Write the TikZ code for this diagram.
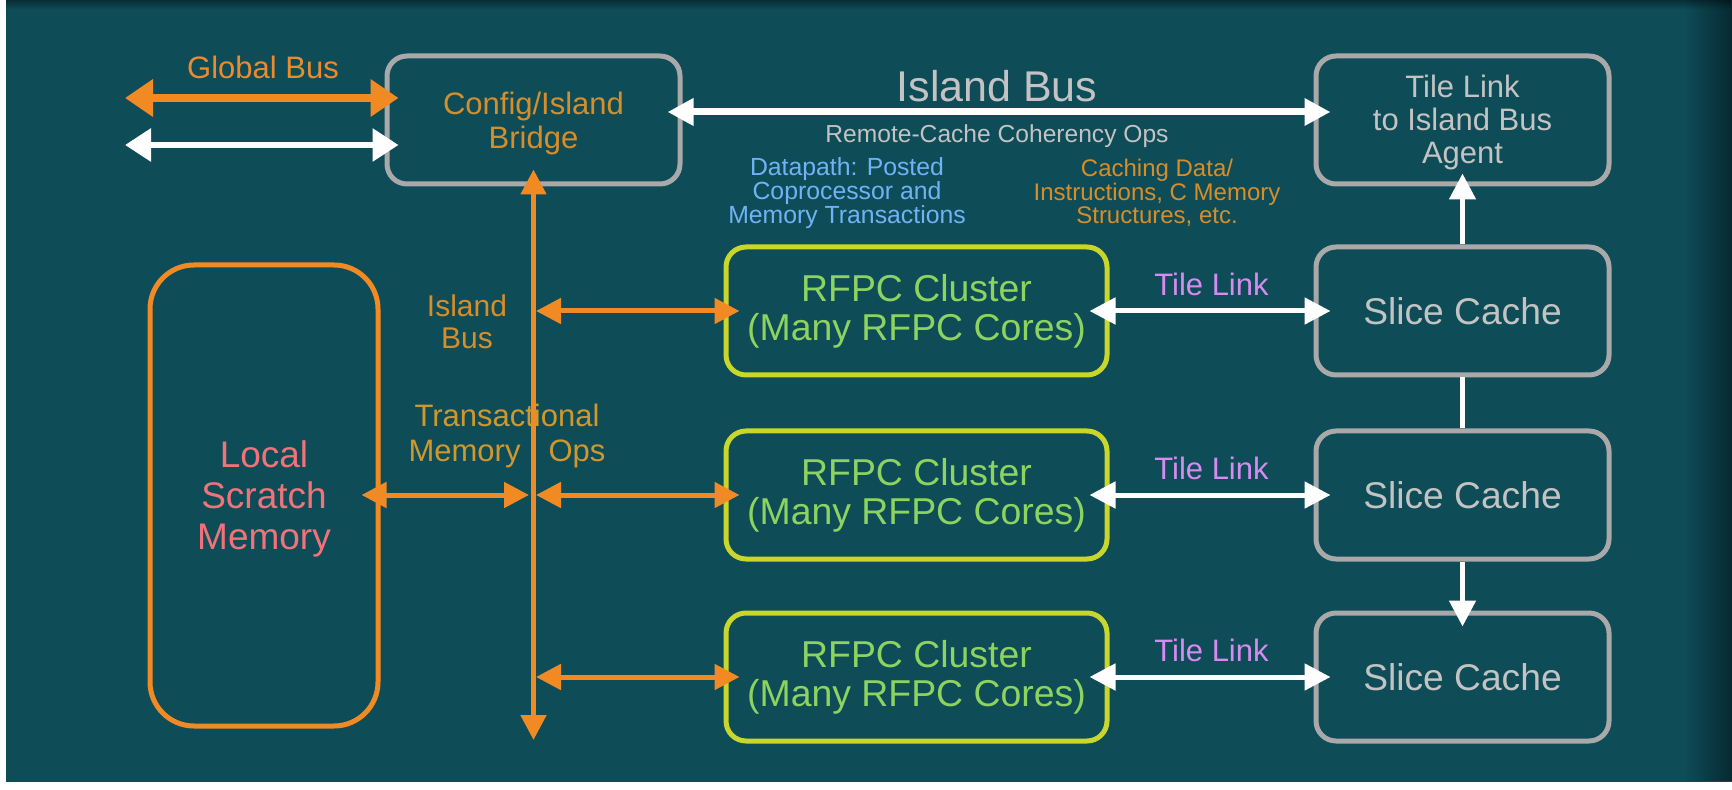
\documentclass[tikz,border=0pt]{standalone}
\usepackage{fontspec}
\setmainfont{Liberation Sans}
\usetikzlibrary{arrows.meta,calc,fadings}

\definecolor{bgin}{HTML}{0E4C58}
\definecolor{bgmid}{HTML}{0C4551}
\definecolor{bgout}{HTML}{07303A}
\definecolor{boxgray}{HTML}{A9A9A9}
\definecolor{txtgray}{HTML}{C3C3C3}
\definecolor{busorange}{HTML}{F28A24}
\definecolor{orgtext}{HTML}{D68E2A}
\definecolor{gbtext}{HTML}{EC8B2E}
\definecolor{goldtext}{HTML}{CF982E}
\definecolor{rfborder}{HTML}{C9D62B}
\definecolor{rftext}{HTML}{8DD35F}
\definecolor{coral}{HTML}{F2727A}
\definecolor{dpblue}{HTML}{71B2F5}
\definecolor{tlpurple}{HTML}{D48CF0}

\newcommand{\fsz}[2]{\fontsize{#1}{#2}\selectfont}

\pgfdeclareradialshading{vignette}{\pgfpoint{0bp}{0bp}}{%
  color(0bp)=(bgin); color(40bp)=(bgin); color(50bp)=(bgmid); color(72bp)=(bgout)}
\tikzfading[name=rightdark, left color=transparent!100, right color=transparent!0]
\tikzfading[name=topdark, bottom color=transparent!100, top color=transparent!0]

\begin{document}
\begin{tikzpicture}[x=0.5pt,y=-0.5pt,
  gbox/.style={draw=boxgray, line width=2.5pt, rounded corners=10pt,
    minimum width=146.5pt, minimum height=64pt, align=center, text=txtgray, inner sep=0pt},
  rbox/.style={draw=rfborder, line width=2.5pt, rounded corners=10pt,
    minimum width=190.5pt, minimum height=64pt, align=center, text=rftext, inner sep=0pt,
    font=\fsz{18.7}{19.5}},
  slicebox/.style={gbox, font=\fsz{18.6}{20}},
  lbl/.style={align=center, inner sep=0pt},
  tl/.style={lbl, text=tlpurple, font=\fsz{15.5}{17}},
  warr/.style={draw=white, line width=2.5pt, {Triangle[length=13pt,width=13pt]}-{Triangle[length=13pt,width=13pt]}},
  wup/.style={draw=white, line width=2.5pt, -{Triangle[length=13pt,width=13pt]}},
  oarr/.style={draw=busorange, line width=2.5pt, {Triangle[length=12.5pt,width=12.5pt]}-{Triangle[length=12.5pt,width=12.5pt]}},
]
% background
\fill[white] (0,0) rectangle (1732,790);
\shade[shading=vignette] (6,0) rectangle (1732,781);
\fill[black, opacity=0.45, path fading=rightdark] (1685,0) rectangle (1732,781);
\fill[black, opacity=0.4, path fading=topdark] (6,0) rectangle (1732,9);

% boxes (a leading strut line with negative skip lowers the text a little)
\node[gbox, text=orgtext, font=\fsz{15.5}{17}] (cfg) at (533.5,120) {\strut\\[-14pt]Config/Island\\Bridge};
\node[gbox, font=\fsz{15.5}{16.5}] (tile) at (1462.5,120) {\strut\\[-14.5pt]Tile Link\\to Island Bus\\Agent};
\node[slicebox] (sc1) at (1462.5,311) {Slice Cache};
\node[slicebox] (sc2) at (1462.5,495) {Slice Cache};
\node[slicebox] (sc3) at (1462.5,677) {Slice Cache};
\node[rbox] (rf1) at (916.5,311) {RFPC Cluster\\(Many RFPC Cores)};
\node[rbox] (rf2) at (916.5,495) {RFPC Cluster\\(Many RFPC Cores)};
\node[rbox] (rf3) at (916.5,677) {RFPC Cluster\\(Many RFPC Cores)};
\node[draw=busorange, line width=2.5pt, rounded corners=22pt, minimum width=114pt,
  minimum height=230.5pt, inner sep=0pt] (scr) at (264,495.5) {};
\node[lbl, text=coral, font=\fsz{18.5}{20.5}] (scrtext) at (264,498.5) {Local\\Scratch\\Memory};

% labels
\node[lbl, text=gbtext, font=\fsz{15.5}{17}] (glab) at (263,67) {Global Bus};
\node[lbl, text=txtgray, font=\fsz{21.5}{24}] (iblab) at (997,86) {Island Bus};
\node[lbl, text=txtgray, font=\fsz{12.3}{13}] (rcc) at (997,136) {Remote-Cache Coherency Ops};
\node[lbl, text=dpblue, font=\fsz{12.4}{11.9}] (dp) at (847,193) {Datapath: Posted\\Coprocessor and\\Memory Transactions};
\node[lbl, text=orgtext, font=\fsz{12}{11.9}] (cd) at (1157,193) {Caching Data/\\Instructions, C Memory\\Structures, etc.};
\node[lbl, text=orgtext, font=\fsz{15}{16}] (ibl) at (467,322) {Island\\Bus};
\node[lbl, text=goldtext, font=\fsz{15.5}{17.5}] (tmo) at (507,435.5) {Transactional\\Memory\hspace{14pt}Ops};
\node[tl] (tl1) at ($(rf1.east)!0.5!(sc1.west)+(0,-27)$) {Tile Link};
\node[tl] (tl2) at ($(rf2.east)!0.5!(sc2.west)+(0,-27)$) {Tile Link};
\node[tl] (tl3) at ($(rf3.east)!0.5!(sc3.west)+(0,-27)$) {Tile Link};

% global bus links
\coordinate (gbo) at (125,98);
\coordinate (gbw) at (125,145);
\draw[draw=busorange, line width=4pt, shorten >=-7pt,
  {Triangle[length=14pt,width=18pt]}-{Triangle[length=14pt,width=18pt]}] (gbo) -- (gbo -| cfg.west);
\draw[draw=white, line width=3pt, shorten >=-7pt,
  {Triangle[length=13pt,width=16pt]}-{Triangle[length=13pt,width=16pt]}] (gbw) -- (gbw -| cfg.west);

% island bus
\coordinate (ibrow) at (0,112);
\draw[warr, line width=3.5pt, shorten <=-7.5pt, shorten >=-8.5pt] (cfg.east |- ibrow) -- (tile.west |- ibrow);

% tile links
\draw[warr, shorten <=-10pt, shorten >=-8.5pt] (rf1.east) -- (sc1.west);
\draw[warr, shorten <=-10pt, shorten >=-8.5pt] (rf2.east) -- (sc2.west);
\draw[warr, shorten <=-10pt, shorten >=-8.5pt] (rf3.east) -- (sc3.west);

% slice cache chain
\draw[wup, shorten >=-6.5pt] (sc1.north) -- (tile.south);
\draw[draw=white, line width=2.5pt] (sc1.south) -- (sc2.north);
\draw[wup, shorten >=-8pt] (sc2.south) -- (sc3.north);

% orange island bus spine
\coordinate (busbot) at (533.5,740);
\draw[oarr, shorten >=-8.5pt] (busbot) -- (cfg.south);
\coordinate (bj1) at (536,311);
\coordinate (bj2) at (536,495);
\coordinate (bj3) at (536,677);
\coordinate (bjs) at (529,495);
\draw[oarr, shorten >=-8pt] (bj1) -- (rf1.west);
\draw[oarr, shorten >=-8pt] (bj2) -- (rf2.west);
\draw[oarr, shorten >=-8pt] (bj3) -- (rf3.west);
\draw[oarr, shorten <=-9.5pt] (scr.east |- bjs) -- (bjs);
\end{tikzpicture}
\end{document}
